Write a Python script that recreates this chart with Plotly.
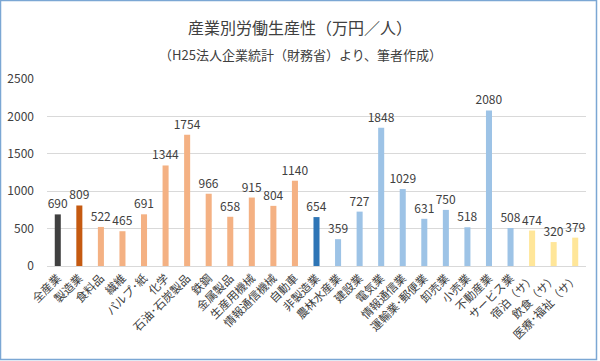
import plotly.graph_objects as go

categories = ["全産業", "製造業", "食料品", "繊維", "パルプ･紙", "化学", "石油･石炭製品", "鉄鋼",
              "金属製品", "生産用機械", "情報通信機械", "自動車", "非製造業", "農林水産業", "建設業",
              "電気業", "情報通信業", "運輸業･郵便業", "卸売業", "小売業", "不動産業", "サービス業",
              "宿泊（サ）", "飲食（サ）", "医療･福祉（サ）"]
values = [690, 809, 522, 465, 691, 1344, 1754, 966, 658, 915, 804, 1140, 654, 359, 727,
          1848, 1029, 631, 750, 518, 2080, 508, 474, 320, 379]
groups = ["all", "mfg"] + ["mfg_sub"] * 10 + ["non"] + ["non_sub"] * 9 + ["svc"] * 3
group_colors = {"all": "#404040", "mfg": "#C55A11", "mfg_sub": "#F4B183",
                "non": "#2E75B6", "non_sub": "#9DC3E6", "svc": "#FFE699"}
y_ticks = [0, 500, 1000, 1500, 2000, 2500]

W, H = 600, 361
L, R, T, B = 47, 14, 79, 95
pw, ph = W - L - R, H - T - B

fig = go.Figure(go.Bar(
    x=categories, y=values,
    marker=dict(color=[group_colors[g] for g in groups], line=dict(width=0)),
    text=[str(v) for v in values], textposition="outside", cliponaxis=False,
    constraintext="none",
    textfont=dict(family="Noto Sans CJK JP", size=12, color="#404040"),
))

fig.update_layout(
    width=W, height=H, margin=dict(l=L, r=R, t=T, b=B, autoexpand=False),
    paper_bgcolor="white", plot_bgcolor="white", bargap=0.72, showlegend=False,
    font=dict(family="Noto Sans CJK JP", color="#595959"),
)
fig.update_xaxes(tickangle=-45, tickfont=dict(size=11.5, color="#404040"), showline=True,
                 linecolor="#D9D9D9", linewidth=1, ticks="", showgrid=False, automargin=False)
fig.update_yaxes(range=[0, 2500], tickvals=y_ticks, showgrid=True, gridcolor="#D9D9D9",
                 zeroline=False, tickfont=dict(size=12, color="#404040"), ticks="",
                 showline=False, ticklabelstandoff=12, automargin=False)

fig.add_annotation(text="産業別労働生産性（万円／人）", xref="paper", yref="paper",
                   x=(300 - L) / pw, y=(H - B - 27) / ph, showarrow=False,
                   font=dict(size=16, color="#404040"), yanchor="middle")
fig.add_annotation(text="（H25法人企業統計（財務省）より、筆者作成）", xref="paper", yref="paper",
                   x=(300 - L) / pw, y=(H - B - 55) / ph, showarrow=False,
                   font=dict(size=13, color="#404040"), yanchor="middle")

fig.add_shape(type="rect", xref="paper", yref="paper",
              x0=(0.5 - L) / pw, x1=(596.5 - L) / pw,
              y0=(H - B - 359.5) / ph, y1=(H - B - 0.5) / ph,
              line=dict(color="#7BA7D4", width=1.5), fillcolor="rgba(0,0,0,0)", layer="above")

fig.write_html("out.html", config={"displayModeBar": False},
               post_script="document.body.style.margin='0';document.body.style.overflow='hidden';")
